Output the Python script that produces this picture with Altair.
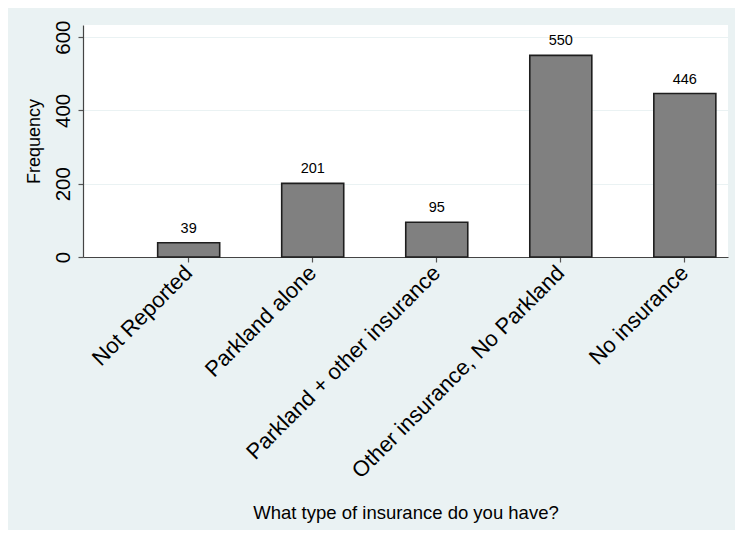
import altair as alt
import pandas as pd

categories = ["Not Reported", "Parkland alone", "Parkland + other insurance",
              "Other insurance, No Parkland", "No insurance"]
counts = [39, 201, 95, 550, 446]
y_ticks = [0, 200, 400, 600]

df = pd.DataFrame({"cat": categories, "n": counts})

FONT = "Liberation Sans"

x_enc = alt.X(
    "cat:N", sort=categories,
    scale=alt.Scale(paddingInner=0.5, paddingOuter=0.35, align=0.86),
    axis=alt.Axis(
        title="What type of insurance do you have?",
        labelAngle=-45, labelAlign="right", labelBaseline="middle",
        labelFontSize=22, labelFont=FONT, labelColor="#000000",
        labelPadding=7, tickSize=5, tickColor="#555555", tickWidth=1.2,
        domainColor="#444444", domainWidth=1.2,
        titleFont=FONT, titleFontSize=18.5, titleFontWeight="normal",
        titleColor="#000000", titleY=261, titleBaseline="alphabetic",
        grid=False, labelLimit=400,
    ),
)
y_enc = alt.Y(
    "n:Q",
    scale=alt.Scale(domain=[0, 633], nice=False, zero=True),
    axis=alt.Axis(
        title="Frequency", values=y_ticks,
        labelAngle=270, labelAlign="center", labelBaseline="alphabetic",
        labelFontSize=20.5, labelFont=FONT, labelColor="#000000",
        labelPadding=9, tickSize=5, tickColor="#555555", tickWidth=1.2,
        domainColor="#444444", domainWidth=1.2,
        titleFont=FONT, titleFontSize=18, titleFontWeight="normal",
        titleColor="#000000", titleX=-43.5, titleBaseline="alphabetic",
        grid=True, gridColor="#EAF2F3", gridWidth=1.2,
    ),
)

bars = alt.Chart(df).mark_bar(
    color="#808080", stroke="#1e1e1e", strokeWidth=1.6
).encode(x=x_enc, y=y_enc)

labels = alt.Chart(df).mark_text(
    baseline="alphabetic", dy=-10, fontSize=14.5, font=FONT, color="#000000"
).encode(x=alt.X("cat:N", sort=categories), y="n:Q", text="n:Q")

chart = (bars + labels).properties(
    width=645, height=232,
    autosize=alt.AutoSizeParams(type="none"),
    padding={"left": 75, "top": 17, "right": 7, "bottom": 273},
    background="#EAF2F3",
).configure_view(fill="#FFFFFF", stroke=None)

chart.save("out.html", embed_options={"renderer": "svg", "actions": False})
